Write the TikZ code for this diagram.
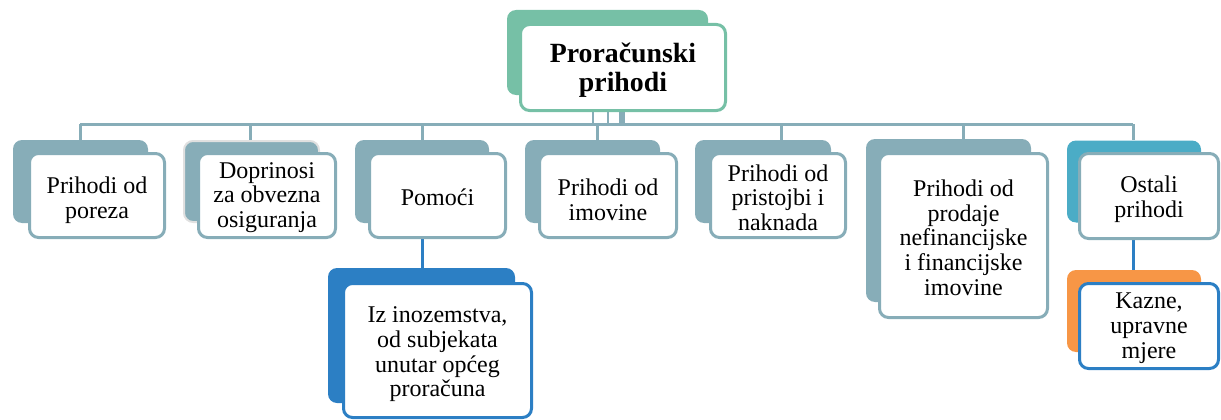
\documentclass[tikz,border=0pt]{standalone}
\usepackage{fontspec}
\setmainfont{Liberation Serif}
\definecolor{sagreen}{HTML}{76C0A6}
\definecolor{grayblue}{HTML}{87ADB8}
\definecolor{aqua}{HTML}{4BACC6}
\definecolor{deepblue}{HTML}{2C7FC4}
\definecolor{orangeacc}{HTML}{F79646}
\pgfdeclarelayer{bg}
\pgfsetlayers{bg,main}
\begin{document}
\begin{tikzpicture}[x=1pt,y=-1pt,
  backshape/.style={rectangle, rounded corners=9pt, inner sep=0pt, fill=#1},
  frontbox/.style={rectangle, rounded corners=9pt, inner sep=0pt, fill=white, draw=#1, line width=3pt},
  txt/.style={inner sep=0pt, align=center, font=\fontsize{24}{24.7}\selectfont},
  conn/.style={draw=grayblue, line width=3pt},
  bconn/.style={draw=deepblue, line width=3pt},
]
\useasboundingbox (0,0) rectangle (1221,420);

% top
\node[backshape=sagreen, minimum width=201pt, minimum height=85pt] (tb) at (607.5,52.5) {};
\node[frontbox=sagreen, minimum width=205pt, minimum height=86pt] (tf) at (623,67.5) {};
\node[txt, font=\bfseries\fontsize{27.8}{29}\selectfont] (tt) at ([yshift=-3pt]tf.center) {Proračunski\\prihodi};

% children row
\node[backshape=grayblue, minimum width=135pt, minimum height=83pt] (b1) at (80.5,181.5) {};
\node[frontbox=grayblue, minimum width=135pt, minimum height=84pt] (f1) at (97,195.5) {};
\node[txt] (t1) at ([yshift=-5pt]f1.center) {Prihodi od\\poreza};

\node[backshape=grayblue, draw=black!12, line width=2pt, minimum width=135pt, minimum height=81pt] (b2) at (251.5,181.5) {};
\node[frontbox=grayblue, minimum width=137pt, minimum height=84pt] (f2) at (267,195.5) {};
\node[txt] (t2) at ([yshift=-2pt]f2.center) {Doprinosi\\za obvezna\\osiguranja};

\node[backshape=grayblue, minimum width=134pt, minimum height=83pt] (b3) at (422,181.5) {};
\node[frontbox=grayblue, minimum width=136pt, minimum height=84pt] (f3) at (437.5,195.5) {};
\node[txt] (t3) at ([yshift=-2pt]f3.center) {Pomoći};

\node[backshape=grayblue, minimum width=135pt, minimum height=83pt] (b4) at (592.5,181.5) {};
\node[frontbox=grayblue, minimum width=137pt, minimum height=84pt] (f4) at (608,195.5) {};
\node[txt] (t4) at ([yshift=-4pt]f4.center) {Prihodi od\\imovine};

\node[backshape=grayblue, minimum width=136pt, minimum height=83pt] (b5) at (763,181.5) {};
\node[frontbox=grayblue, minimum width=135pt, minimum height=84pt] (f5) at (778,195.5) {};
\node[txt] (t5) at ([yshift=-2pt]f5.center) {Prihodi od\\pristojbi i\\naknada};

\node[backshape=grayblue, minimum width=165pt, minimum height=163pt] (b6) at (948.5,220.5) {};
\node[frontbox=grayblue, minimum width=168pt, minimum height=164pt] (f6) at (963.5,235.5) {};
\node[txt] (t6) at ([yshift=-2pt]f6.center) {Prihodi od\\prodaje\\nefinancijske\\i financijske\\imovine};

\node[backshape=aqua, minimum width=134pt, minimum height=82pt] (b7) at (1134,181.5) {};
\node[frontbox=grayblue, minimum width=139pt, minimum height=85pt] (f7) at (1149,196) {};
\node[txt] (t7) at ([yshift=-3pt]f7.center) {Ostali\\prihodi};

% sub children
\node[backshape=deepblue, minimum width=187pt, minimum height=135pt] (b8) at (421.5,335.5) {};
\node[frontbox=deepblue, minimum width=188pt, minimum height=134pt] (f8) at (437.5,350.5) {};
\node[txt] (t8) at ([yshift=-4pt]f8.center) {Iz inozemstva,\\od subjekata\\unutar općeg\\proračuna};

\node[backshape=orangeacc, minimum width=134pt, minimum height=82pt] (b9) at (1134,311) {};
\node[frontbox=deepblue, minimum width=139pt, minimum height=85pt] (f9) at (1149,326) {};
\node[txt] (t9) at ([yshift=-2pt]f9.center) {Kazne,\\upravne\\mjere};

% connectors
\coordinate (d1) at (80,124);
\coordinate (d2) at (250,124);
\coordinate (d3) at (422,124);
\coordinate (d4) at (597,124);
\coordinate (d5) at (781,124);
\coordinate (d6) at (963,124);
\coordinate (d7) at (1133,124);
\begin{pgfonlayer}{bg}
  \draw[conn] (d1) -- (d7);
  \draw[conn] (d1) -- (d1 |- b1.north);
  \draw[conn] (d2) -- (d2 |- b2.north);
  \draw[conn] (d3) -- (d3 |- b3.north);
  \draw[conn] (d4) -- (d4 |- b4.north);
  \draw[conn] (d5) -- (d5 |- b5.north);
  \draw[conn] (d6) -- (d6 |- b6.north);
  \draw[conn] (d7) -- (d7 |- b7.north);
  \draw[conn, line width=6pt] ([xshift=-1pt]tf.south) -- ([xshift=-1pt]tf.south |- d1);
  \draw[conn, line width=2pt] ([xshift=-15pt]tf.south) -- ([xshift=-15pt]tf.south |- d1);
  \draw[conn, line width=2pt] ([xshift=-30pt]tf.south) -- ([xshift=-30pt]tf.south |- d1);
  \draw[bconn] (d3 |- f3.south) -- (d3 |- b8.north);
  \draw[bconn] (d7 |- f7.south) -- (d7 |- b9.north);
\end{pgfonlayer}
\end{tikzpicture}
\end{document}
